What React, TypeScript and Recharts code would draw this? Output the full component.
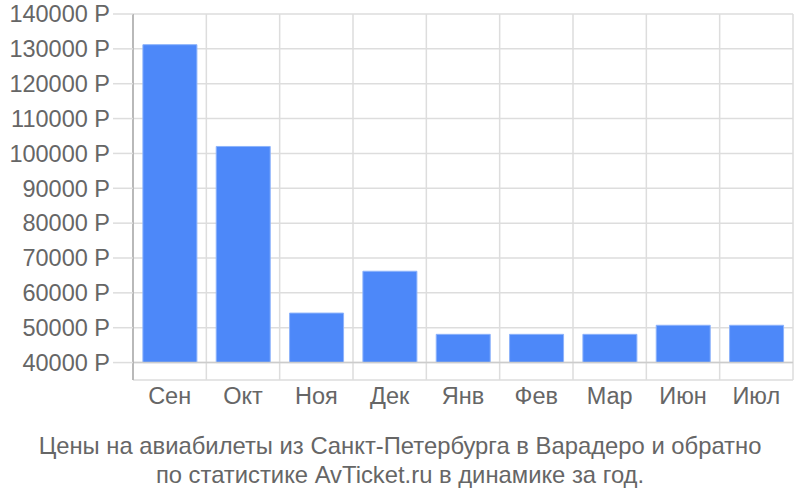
import React from "react";
import { BarChart, Bar, XAxis, YAxis, CartesianGrid, ReferenceLine } from "recharts";

const categories = ["Сен", "Окт", "Ноя", "Дек", "Янв", "Фев", "Мар", "Июн", "Июл"];
const prices = [131200, 102000, 54200, 66200, 48100, 48100, 48100, 50700, 50700];
const yTicks = [40000, 50000, 60000, 70000, 80000, 90000, 100000, 110000, 120000, 130000, 140000];
const baseValue = 40000;
const titleLines = [
  "Цены на авиабилеты из Санкт-Петербурга в Варадеро и обратно",
  "по статистике AvTicket.ru в динамике за год.",
];

const data = categories.map((name, i) => ({ name, range: [baseValue, prices[i]] }));

const font = "'Liberation Sans', Arial, sans-serif";

export default function App() {
  return (
    <div style={{ position: "absolute", left: 0, top: 0, width: 800, height: 500, fontFamily: font }}>
      <BarChart
        width={800}
        height={500}
        data={data}
        margin={{ top: 14, right: 7, left: 0, bottom: 90 }}
        barCategoryGap="13.5%"
      >
        <CartesianGrid
          stroke="#dddddd"
          strokeWidth={1.5}
          verticalCoordinatesGenerator={({ offset }: any) =>
            Array.from({ length: categories.length + 1 }, (_, i) => offset.left + (i * offset.width) / categories.length)
          }
        />
        <XAxis
          dataKey="name"
          axisLine={false}
          tickLine={false}
          tickMargin={1}
          height={30}
          interval={0}
          tick={{ fill: "#666666", fontSize: 23.5, fontFamily: font }}
        />
        <YAxis
          width={133}
          domain={[35000, 140000]}
          ticks={yTicks}
          interval={0}
          tickSize={20}
          tickMargin={3}
          tickLine={{ stroke: "#dddddd", strokeWidth: 1.5 }}
          axisLine={{ stroke: "#aaaaaa", strokeWidth: 1.5 }}
          tickFormatter={(v: number) => `${v} Р`}
          tick={{ fill: "#666666", fontSize: 23.5, fontFamily: font }}
        />
        <ReferenceLine y={baseValue} stroke="#cccccc" strokeWidth={1.5} />
        <Bar dataKey="range" fill="#4d88f9" stroke="#8db3fb" strokeWidth={1} isAnimationActive={false} />
      </BarChart>
      <div
        style={{
          position: "absolute",
          left: 0,
          top: 431,
          width: 800,
          textAlign: "center",
          fontSize: 23.8,
          lineHeight: "29px",
          color: "#666666",
          fontFamily: font,
        }}
      >
        {titleLines.map((l) => (
          <div key={l}>{l}</div>
        ))}
      </div>
    </div>
  );
}
